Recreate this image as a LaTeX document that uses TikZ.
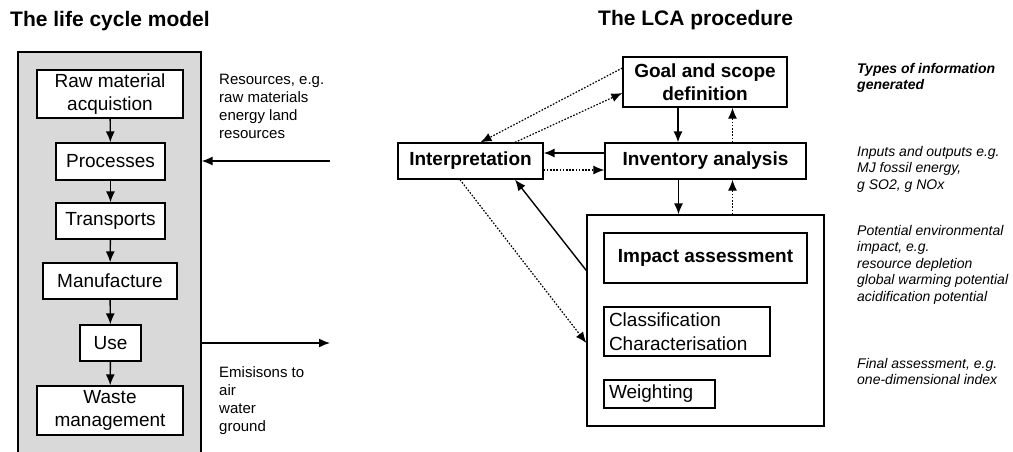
\documentclass[tikz,border=0pt]{standalone}
\usepackage{fontspec}
\setmainfont{Liberation Sans}
\usetikzlibrary{arrows.meta}
\definecolor{modelgray}{HTML}{D9D9D9}

\tikzset{
  stage/.style={draw, line width=1.3pt, fill=white, inner sep=0pt, align=center,
    font=\fontsize{19}{23.5}\selectfont},
  phase/.style={stage, font=\fontsize{19}{23.5}\selectfont\bfseries},
  note/.style={anchor=north west, inner sep=0pt, align=left,
    font=\fontsize{15}{18}\selectfont},
  info/.style={anchor=north west, inner sep=0pt, align=left,
    font=\fontsize{14}{16.5}\selectfont\itshape},
  heading/.style={anchor=base west, inner sep=0pt, font=\fontsize{21}{25}\selectfont\bfseries},
  arr/.style={-{Latex[length=11pt,width=9pt]}, line width=1.4pt},
  darr/.style={-{Latex[length=11pt,width=9pt]}, line width=1.2pt,
    dash pattern=on 1.6pt off 1.6pt},
}

\begin{document}
\begin{tikzpicture}[x=1pt, y=-1pt]
  \useasboundingbox (0,0) rectangle (1013,451);

  % life cycle model
  \node[heading] (lctitle) at (10,26) {The life cycle model};
  \node[draw, line width=1.3pt, fill=modelgray, minimum width=183, minimum height=420,
    inner sep=0pt] (model) at (109.5,262) {};
  \node[stage, minimum width=146, minimum height=48] (raw) at (110,94) {Raw material\\acquistion};
  \node[stage, minimum width=109, minimum height=37] (proc) at (110.5,161.5) {Processes};
  \node[stage, minimum width=109, minimum height=36] (trans) at (110.5,221) {Transports};
  \node[stage, minimum width=134, minimum height=36] (manu) at (110,281) {Manufacture};
  \node[stage, minimum width=61, minimum height=36] (use) at (110.5,343) {Use};
  \node[stage, minimum width=146, minimum height=49] (waste) at (110,410.5) {Waste\\management};
  \foreach \a/\b in {raw/proc, proc/trans, trans/manu, manu/use, use/waste}
    \draw[arr] (\a) -- (\b);

  \coordinate (resin) at (330,161);
  \coordinate (emout) at (330,343);
  \draw[arr] (resin) -- (resin -| model.east);
  \draw[arr] (emout -| model.east) -- (emout);
  \node[note] (restext) at (219,74) {Resources, e.g.\\raw materials\\energy land\\resources};
  \node[note] (emtext) at (219,366) {Emisisons to\\air\\water\\ground};

  % LCA procedure
  \node[heading] (lcatitle) at (598,25) {The LCA procedure};
  \node[phase, minimum width=164, minimum height=50] (goal) at (705,82) {Goal and scope\\definition};
  \node[phase, minimum width=145, minimum height=36] (interp) at (470.5,161) {Interpretation};
  \node[phase, minimum width=201, minimum height=36] (inv) at (705.5,161) {Inventory analysis};
  \node[draw, line width=1.3pt, minimum width=237, minimum height=211, inner sep=0pt] (lcia) at (705.5,320.5) {};
  \node[phase, minimum width=203, minimum height=50] (impact) at (705.5,258) {Impact assessment};
  \node[stage, minimum width=166, minimum height=49, align=left, text width=156] (classif) at (687,331.5) {Classification\\Characterisation};
  \node[stage, minimum width=111, minimum height=28, align=left, text width=101] (weight) at (659.5,394) {Weighting};

  \draw[arr] ([xshift=-27]goal.south) -- ([xshift=-27]goal.south |- inv.north);
  \draw[darr] ([xshift=27]inv.north) -- ([xshift=27]inv.north |- goal.south);
  \draw[arr] ([xshift=-27]inv.south) -- ([xshift=-27]inv.south |- lcia.north);
  \draw[darr] ([xshift=27]lcia.north) -- ([xshift=27]lcia.north |- inv.south);
  \draw[arr] ([yshift=8]inv.west) -- ([yshift=8]inv.west -| interp.east);
  \draw[darr] ([yshift=-9]interp.east) -- ([yshift=-9]interp.east -| inv.west);
  \draw[darr] ([yshift=14]goal.west) -- ([xshift=10]interp.north);
  \draw[darr] ([xshift=44.5]interp.north) -- ([yshift=-11]goal.west);
  \draw[arr] ([yshift=50]lcia.west) -- ([xshift=44.5]interp.south);
  \draw[darr] ([xshift=-10.5]interp.south) -- ([yshift=-22.5]lcia.west);

  % types of information
  \node[info, font=\fontsize{14}{16.5}\selectfont\bfseries\itshape] (infohead) at (857,63) {Types of information\\generated};
  \node[info] (infoinv) at (857,146) {Inputs and outputs e.g.\\MJ fossil energy,\\g SO2, g NOx};
  \node[info] (infoimp) at (857,225) {Potential environmental\\impact, e.g.\\resource depletion\\global warming potential\\acidification potential};
  \node[info] (infofin) at (857,358) {Final assessment, e.g.\\one-dimensional index};
\end{tikzpicture}
\end{document}
